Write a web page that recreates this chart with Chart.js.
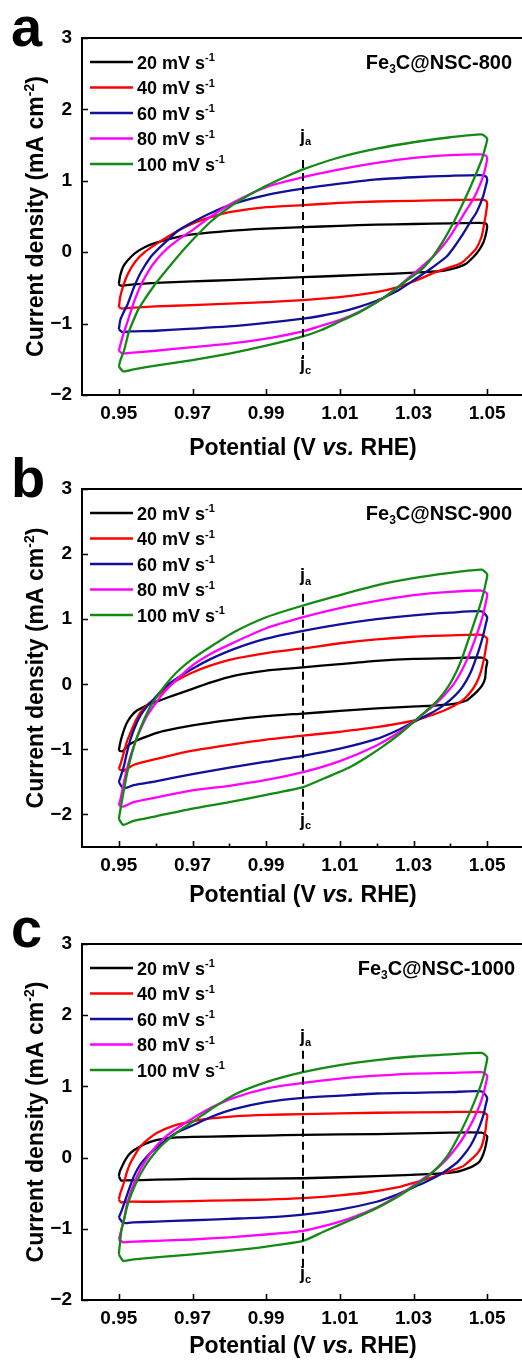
<!DOCTYPE html>
<html><head><meta charset="utf-8">
<script src="https://cdn.jsdelivr.net/npm/chart.js@4/dist/chart.umd.min.js"></script>
<style>
html,body{margin:0;padding:0;background:#fff;overflow:hidden;width:522px;height:1362px;position:relative;}
canvas{position:absolute;left:0;}
</style></head><body>
<canvas id="ca" width="530" height="475" style="top:0px"></canvas>
<canvas id="cb" width="530" height="475" style="top:450px"></canvas>
<canvas id="cc" width="530" height="462" style="top:900px"></canvas>
<script>
// ---------- axis / label data ----------
const E_TICKS = [0.95, 0.97, 0.99, 1.01, 1.03, 1.05];
const E_MINOR = [0.96, 0.98, 1.00, 1.02, 1.04];
const J_TICKS = [-2, -1, 0, 1, 2, 3];
const E_RANGE = [0.94, 1.06];
const J_MIN = [-2, -2.5, -2];
const J_MAX = [3, 3, 3];
const SPEEDS = ['20', '40', '60', '80', '100'];
const SAMPLES = ['800', '900', '1000'];
const LETTERS = ['a', 'b', 'c'];

// ---------- Fe3C@NSC-800 (potential V, current mA cm-2) ----------
const nsc800_20 = [[0.9500,-0.44],[0.9504,-0.32],[0.9512,-0.20],[0.9525,-0.11],[0.9545,-0.01],[0.9570,0.07],[0.9600,0.13],[0.9650,0.20],[0.9700,0.25],[0.9800,0.30],[0.9900,0.33],[1.0000,0.35],[1.0100,0.37],[1.0200,0.385],[1.0300,0.395],[1.0400,0.405],[1.0480,0.41],[1.0497,0.40],[1.0500,0.36],
 [1.0495,0.22],[1.0489,0.13],[1.0478,0.03],[1.0462,-0.07],[1.0440,-0.17],[1.0415,-0.22],[1.0380,-0.26],[1.0330,-0.28],[1.0250,-0.30],[1.0100,-0.33],[1.0000,-0.35],[0.9900,-0.37],[0.9800,-0.39],[0.9700,-0.41],[0.9600,-0.43],[0.9540,-0.45],[0.9510,-0.47],[0.9502,-0.46],[0.9500,-0.44]];
const nsc800_40 = [[0.9500,-0.77],[0.9504,-0.62],[0.9512,-0.47],[0.9525,-0.30],[0.9545,-0.13],[0.9570,0.00],[0.9600,0.11],[0.9650,0.27],[0.9700,0.40],[0.9750,0.49],[0.9800,0.56],[0.9900,0.63],[1.0000,0.66],[1.0100,0.69],[1.0200,0.71],[1.0300,0.72],[1.0400,0.73],[1.0480,0.735],[1.0497,0.72],[1.0500,0.68],
 [1.0497,0.55],[1.0492,0.40],[1.0485,0.22],[1.0470,0.05],[1.0450,-0.06],[1.0430,-0.15],[1.0400,-0.21],[1.0360,-0.28],[1.0300,-0.41],[1.0250,-0.50],[1.0200,-0.56],[1.0100,-0.63],[1.0000,-0.67],[0.9900,-0.70],[0.9800,-0.72],[0.9700,-0.74],[0.9600,-0.76],[0.9530,-0.78],[0.9508,-0.79],[0.9500,-0.77]];
const nsc800_60 = [[0.9500,-1.08],[0.9504,-0.95],[0.9512,-0.85],[0.9523,-0.74],[0.9541,-0.49],[0.9560,-0.28],[0.9586,-0.07],[0.9610,0.06],[0.9631,0.16],[0.9660,0.30],[0.9700,0.42],[0.9750,0.55],[0.9812,0.68],[0.9900,0.80],[1.0000,0.89],[1.0100,0.96],[1.0200,1.02],[1.0300,1.05],[1.0400,1.07],[1.0480,1.08],[1.0497,1.06],[1.0500,1.01],
 [1.0496,0.92],[1.0490,0.80],[1.0480,0.66],[1.0470,0.55],[1.0460,0.47],[1.0449,0.38],[1.0430,0.22],[1.0410,0.07],[1.0390,-0.06],[1.0360,-0.18],[1.0327,-0.30],[1.0290,-0.43],[1.0260,-0.53],[1.0230,-0.61],[1.0200,-0.68],[1.0150,-0.77],[1.0100,-0.84],[1.0050,-0.89],[1.0000,-0.93],[0.9900,-0.99],[0.9800,-1.04],[0.9700,-1.07],[0.9600,-1.10],[0.9530,-1.11],[0.9510,-1.12],[0.9500,-1.08]];
const nsc800_80 = [[0.9500,-1.38],[0.9505,-1.28],[0.9514,-1.12],[0.9525,-0.95],[0.9541,-0.70],[0.9560,-0.46],[0.9586,-0.22],[0.9610,-0.06],[0.9631,0.05],[0.9660,0.17],[0.9700,0.31],[0.9750,0.50],[0.9812,0.70],[0.9900,0.91],[1.0000,1.05],[1.0100,1.16],[1.0200,1.25],[1.0300,1.32],[1.0400,1.36],[1.0480,1.37],[1.0497,1.35],[1.0500,1.31],
 [1.0496,1.20],[1.0490,1.08],[1.0480,0.94],[1.0465,0.77],[1.0450,0.64],[1.0435,0.52],[1.0421,0.40],[1.0400,0.23],[1.0380,0.09],[1.0350,-0.08],[1.0300,-0.30],[1.0260,-0.48],[1.0230,-0.60],[1.0200,-0.70],[1.0150,-0.84],[1.0100,-0.95],[1.0050,-1.03],[1.0000,-1.11],[0.9900,-1.21],[0.9800,-1.28],[0.9700,-1.33],[0.9600,-1.38],[0.9530,-1.41],[0.9510,-1.42],[0.9500,-1.38]];
const nsc800_100 = [[0.9500,-1.60],[0.9505,-1.50],[0.9514,-1.38],[0.9527,-1.12],[0.9540,-0.95],[0.9554,-0.79],[0.9570,-0.66],[0.9586,-0.54],[0.9604,-0.41],[0.9631,-0.24],[0.9660,-0.06],[0.9700,0.17],[0.9750,0.43],[0.9800,0.63],[0.9850,0.79],[0.9900,0.93],[0.9950,1.05],[1.0000,1.16],[1.0100,1.33],[1.0200,1.45],[1.0300,1.54],[1.0400,1.61],[1.0485,1.65],[1.0500,1.59],
 [1.0495,1.47],[1.0488,1.34],[1.0478,1.20],[1.0465,1.04],[1.0450,0.86],[1.0430,0.64],[1.0410,0.43],[1.0390,0.24],[1.0370,0.07],[1.0350,-0.08],[1.0320,-0.25],[1.0280,-0.40],[1.0250,-0.52],[1.0230,-0.60],[1.0200,-0.70],[1.0150,-0.85],[1.0100,-0.97],[1.0050,-1.09],[1.0000,-1.18],[0.9900,-1.31],[0.9800,-1.42],[0.9700,-1.51],[0.9600,-1.59],[0.9540,-1.64],[0.9512,-1.67],[0.9500,-1.60]];

// ---------- Fe3C@NSC-900 ----------
const nsc900_20 = [[0.9500,-1.02],[0.9503,-0.92],[0.9509,-0.79],[0.9516,-0.67],[0.9523,-0.58],[0.9535,-0.48],[0.9550,-0.40],[0.9570,-0.34],[0.9586,-0.30],[0.9620,-0.23],[0.9649,-0.17],[0.9700,-0.07],[0.9750,0.03],[0.9812,0.13],[0.9900,0.21],[1.0000,0.26],[1.0100,0.31],[1.0200,0.36],[1.0300,0.39],[1.0400,0.40],[1.0485,0.41],[1.0500,0.36],
 [1.0497,0.25],[1.0494,0.08],[1.0485,-0.03],[1.0471,-0.12],[1.0455,-0.20],[1.0444,-0.25],[1.0420,-0.29],[1.0399,-0.31],[1.0350,-0.33],[1.0308,-0.34],[1.0200,-0.37],[1.0100,-0.41],[1.0000,-0.45],[0.9900,-0.49],[0.9800,-0.55],[0.9700,-0.63],[0.9620,-0.72],[0.9586,-0.78],[0.9550,-0.86],[0.9525,-0.94],[0.9510,-1.03],[0.9500,-1.02]];
const nsc900_40 = [[0.9500,-1.30],[0.9505,-1.22],[0.9514,-1.04],[0.9522,-0.88],[0.9532,-0.74],[0.9545,-0.57],[0.9559,-0.43],[0.9575,-0.33],[0.9595,-0.23],[0.9620,-0.10],[0.9649,0.03],[0.9700,0.18],[0.9750,0.29],[0.9812,0.39],[0.9900,0.48],[1.0000,0.55],[1.0100,0.63],[1.0200,0.69],[1.0300,0.73],[1.0400,0.75],[1.0485,0.76],[1.0500,0.70],
 [1.0497,0.58],[1.0493,0.44],[1.0487,0.28],[1.0480,0.14],[1.0470,0.01],[1.0455,-0.12],[1.0435,-0.24],[1.0410,-0.33],[1.0380,-0.41],[1.0340,-0.49],[1.0300,-0.56],[1.0200,-0.66],[1.0100,-0.73],[1.0000,-0.79],[0.9900,-0.85],[0.9800,-0.93],[0.9700,-1.02],[0.9600,-1.15],[0.9540,-1.24],[0.9512,-1.33],[0.9500,-1.30]];
const nsc900_60 = [[0.9500,-1.50],[0.9505,-1.42],[0.9514,-1.25],[0.9522,-1.05],[0.9532,-0.84],[0.9545,-0.64],[0.9559,-0.48],[0.9575,-0.35],[0.9595,-0.23],[0.9620,-0.07],[0.9649,0.06],[0.9700,0.24],[0.9750,0.39],[0.9812,0.54],[0.9900,0.70],[1.0000,0.82],[1.0100,0.92],[1.0200,1.00],[1.0300,1.06],[1.0400,1.10],[1.0485,1.12],[1.0500,1.03],
 [1.0496,0.92],[1.0489,0.75],[1.0480,0.57],[1.0470,0.40],[1.0458,0.22],[1.0444,0.06],[1.0425,-0.10],[1.0400,-0.24],[1.0370,-0.37],[1.0335,-0.48],[1.0300,-0.58],[1.0263,-0.69],[1.0200,-0.84],[1.0100,-0.99],[1.0000,-1.10],[0.9900,-1.19],[0.9800,-1.28],[0.9700,-1.38],[0.9600,-1.49],[0.9540,-1.55],[0.9512,-1.60],[0.9500,-1.50]];
const nsc900_80 = [[0.9500,-1.86],[0.9505,-1.75],[0.9514,-1.50],[0.9522,-1.30],[0.9532,-1.10],[0.9545,-0.88],[0.9559,-0.69],[0.9575,-0.50],[0.9595,-0.33],[0.9620,-0.14],[0.9649,0.03],[0.9700,0.29],[0.9750,0.47],[0.9812,0.64],[0.9900,0.86],[1.0000,1.03],[1.0100,1.17],[1.0200,1.28],[1.0300,1.37],[1.0400,1.42],[1.0485,1.44],[1.0500,1.39],
 [1.0496,1.25],[1.0490,1.10],[1.0480,0.90],[1.0465,0.66],[1.0450,0.44],[1.0430,0.20],[1.0410,0.01],[1.0385,-0.16],[1.0360,-0.30],[1.0330,-0.44],[1.0300,-0.58],[1.0263,-0.73],[1.0200,-0.94],[1.0100,-1.18],[1.0000,-1.35],[0.9900,-1.47],[0.9800,-1.56],[0.9700,-1.63],[0.9600,-1.74],[0.9540,-1.81],[0.9512,-1.88],[0.9500,-1.86]];
const nsc900_100 = [[0.9500,-2.07],[0.9505,-1.90],[0.9512,-1.68],[0.9523,-1.35],[0.9536,-1.05],[0.9550,-0.80],[0.9568,-0.55],[0.9586,-0.34],[0.9610,-0.14],[0.9631,0.02],[0.9660,0.20],[0.9700,0.39],[0.9750,0.58],[0.9812,0.80],[0.9900,1.03],[1.0000,1.21],[1.0100,1.37],[1.0200,1.52],[1.0300,1.63],[1.0400,1.71],[1.0485,1.76],[1.0500,1.69],
 [1.0496,1.55],[1.0490,1.40],[1.0480,1.20],[1.0465,0.95],[1.0450,0.70],[1.0435,0.45],[1.0417,0.20],[1.0395,-0.03],[1.0370,-0.22],[1.0345,-0.36],[1.0320,-0.48],[1.0300,-0.58],[1.0263,-0.76],[1.0218,-0.95],[1.0173,-1.12],[1.0128,-1.27],[1.0060,-1.44],[1.0000,-1.58],[0.9900,-1.70],[0.9800,-1.81],[0.9700,-1.91],[0.9600,-2.03],[0.9540,-2.10],[0.9512,-2.16],[0.9500,-2.07]];

// ---------- Fe3C@NSC-1000 ----------
const nsc1000_20 = [[0.9500,-0.26],[0.9503,-0.19],[0.9509,-0.12],[0.9517,-0.04],[0.9527,0.04],[0.9540,0.10],[0.9559,0.16],[0.9580,0.21],[0.9604,0.25],[0.9650,0.28],[0.9700,0.29],[0.9800,0.30],[0.9900,0.31],[1.0000,0.32],[1.0200,0.33],[1.0400,0.35],[1.0485,0.35],[1.0500,0.30],
 [1.0498,0.22],[1.0494,0.12],[1.0488,0.03],[1.0480,-0.05],[1.0468,-0.10],[1.0453,-0.14],[1.0417,-0.20],[1.0380,-0.22],[1.0354,-0.23],[1.0200,-0.26],[1.0000,-0.29],[0.9800,-0.30],[0.9700,-0.30],[0.9600,-0.31],[0.9520,-0.32],[0.9506,-0.32],[0.9500,-0.26]];
const nsc1000_40 = [[0.9500,-0.59],[0.9504,-0.50],[0.9514,-0.35],[0.9522,-0.20],[0.9532,-0.07],[0.9545,0.05],[0.9559,0.16],[0.9580,0.26],[0.9604,0.35],[0.9650,0.45],[0.9700,0.51],[0.9750,0.55],[0.9812,0.58],[0.9900,0.60],[1.0000,0.61],[1.0200,0.63],[1.0400,0.64],[1.0485,0.64],[1.0500,0.60],
 [1.0498,0.50],[1.0496,0.40],[1.0491,0.27],[1.0485,0.16],[1.0475,0.07],[1.0462,0.00],[1.0435,-0.12],[1.0410,-0.17],[1.0381,-0.22],[1.0330,-0.31],[1.0290,-0.37],[1.0263,-0.41],[1.0173,-0.49],[1.0100,-0.53],[1.0000,-0.57],[0.9900,-0.59],[0.9800,-0.60],[0.9700,-0.61],[0.9600,-0.62],[0.9520,-0.62],[0.9506,-0.63],[0.9500,-0.59]];
const nsc1000_60 = [[0.9500,-0.84],[0.9505,-0.78],[0.9512,-0.68],[0.9518,-0.59],[0.9528,-0.44],[0.9541,-0.26],[0.9558,-0.10],[0.9577,0.02],[0.9600,0.13],[0.9631,0.26],[0.9660,0.36],[0.9700,0.45],[0.9750,0.57],[0.9812,0.68],[0.9900,0.78],[1.0000,0.84],[1.0100,0.87],[1.0200,0.90],[1.0300,0.91],[1.0400,0.92],[1.0485,0.93],[1.0500,0.84],
 [1.0496,0.74],[1.0490,0.60],[1.0480,0.45],[1.0468,0.30],[1.0455,0.17],[1.0440,0.06],[1.0420,-0.06],[1.0395,-0.16],[1.0365,-0.26],[1.0330,-0.35],[1.0290,-0.44],[1.0250,-0.53],[1.0200,-0.62],[1.0100,-0.73],[1.0000,-0.80],[0.9900,-0.84],[0.9800,-0.86],[0.9700,-0.88],[0.9600,-0.90],[0.9540,-0.91],[0.9512,-0.92],[0.9500,-0.84]];
const nsc1000_80 = [[0.9500,-1.15],[0.9505,-1.05],[0.9514,-0.87],[0.9522,-0.66],[0.9532,-0.49],[0.9545,-0.31],[0.9559,-0.16],[0.9575,-0.02],[0.9595,0.12],[0.9620,0.26],[0.9649,0.38],[0.9700,0.55],[0.9750,0.70],[0.9812,0.84],[0.9900,0.97],[1.0000,1.05],[1.0100,1.11],[1.0200,1.15],[1.0300,1.18],[1.0400,1.19],[1.0485,1.20],[1.0500,1.15],
 [1.0496,1.03],[1.0490,0.90],[1.0480,0.74],[1.0465,0.56],[1.0450,0.41],[1.0430,0.24],[1.0410,0.10],[1.0385,-0.05],[1.0355,-0.19],[1.0320,-0.32],[1.0290,-0.43],[1.0250,-0.56],[1.0200,-0.70],[1.0100,-0.90],[1.0000,-1.03],[0.9900,-1.08],[0.9800,-1.12],[0.9700,-1.15],[0.9600,-1.17],[0.9540,-1.18],[0.9512,-1.19],[0.9500,-1.15]];
const nsc1000_100 = [[0.9500,-1.36],[0.9503,-1.20],[0.9507,-1.02],[0.9515,-0.85],[0.9523,-0.68],[0.9535,-0.50],[0.9550,-0.32],[0.9568,-0.15],[0.9586,-0.01],[0.9610,0.14],[0.9640,0.28],[0.9670,0.40],[0.9700,0.50],[0.9750,0.68],[0.9812,0.88],[0.9900,1.06],[1.0000,1.20],[1.0100,1.30],[1.0200,1.37],[1.0300,1.42],[1.0400,1.45],[1.0485,1.47],[1.0500,1.41],
 [1.0496,1.28],[1.0490,1.14],[1.0480,0.98],[1.0465,0.78],[1.0450,0.60],[1.0430,0.38],[1.0410,0.18],[1.0390,0.01],[1.0365,-0.14],[1.0330,-0.30],[1.0290,-0.44],[1.0250,-0.57],[1.0200,-0.71],[1.0128,-0.88],[1.0060,-1.03],[1.0000,-1.17],[0.9900,-1.25],[0.9800,-1.31],[0.9700,-1.36],[0.9600,-1.40],[0.9540,-1.43],[0.9512,-1.45],[0.9500,-1.36]];

// dashed guide at E = 1.00 V: [top j, bottom j]; j_a / j_c label baselines
const guide800 = [1.29, -1.49];
const guide900 = [1.39, -1.95];
const guide1000 = [1.50, -1.57];
const jLabel800 = [1.55, -1.65];
const jLabel900 = [1.58, -2.17];
const jLabel1000 = [1.62, -1.70];
const GUIDE_E = 1.00;

// ---------- styling / layout ----------
const COLORS = ['#000000', '#ff0000', '#10109a', '#ff00ff', '#138a13'];
const FONT = '"Liberation Sans", Arial, Helvetica, sans-serif';
const PANELS = [
  {id:'ca', h:475, aTop:38, aBot:395, curves:[nsc800_20,nsc800_40,nsc800_60,nsc800_80,nsc800_100], guide:guide800, jl:jLabel800, sample:SAMPLES[0], letter:LETTERS[0], yMin:J_MIN[0], yMax:J_MAX[0], letterBase:46, xTitleOff:52, minor:false, sampleRight:512},
  {id:'cb', h:475, aTop:39, aBot:397, curves:[nsc900_20,nsc900_40,nsc900_60,nsc900_80,nsc900_100], guide:guide900, jl:jLabel900, sample:SAMPLES[1], letter:LETTERS[1], yMin:J_MIN[1], yMax:J_MAX[1], letterBase:47, xTitleOff:47, minor:true, sampleRight:512},
  {id:'cc', h:462, aTop:44, aBot:400, curves:[nsc1000_20,nsc1000_40,nsc1000_60,nsc1000_80,nsc1000_100], guide:guide1000, jl:jLabel1000, sample:SAMPLES[2], letter:LETTERS[2], yMin:J_MIN[2], yMax:J_MAX[2], letterBase:47, xTitleOff:45, minor:false, sampleRight:515}
];

function fontStr(size, italic){ return (italic ? 'italic ' : '') + 'bold ' + size + 'px ' + FONT; }
function partSize(size, mode){ return (mode === 'sup' || mode === 'sub') ? Math.round(size * 0.62) : size; }
function richWidth(ctx, parts, size){
  let w = 0;
  for (const [t, m] of parts){ ctx.font = fontStr(partSize(size, m), m === 'i'); w += ctx.measureText(t).width; }
  return w;
}
function drawRich(ctx, parts, x, base, size, align){
  const w = richWidth(ctx, parts, size);
  let cx = align === 'center' ? x - w / 2 : align === 'right' ? x - w : x;
  ctx.textAlign = 'left'; ctx.textBaseline = 'alphabetic'; ctx.fillStyle = '#000';
  for (const [t, m] of parts){
    ctx.font = fontStr(partSize(size, m), m === 'i');
    let dy = 0;
    if (m === 'sup') dy = -size * 0.40;
    if (m === 'sub') dy = size * 0.22;
    ctx.fillText(t, cx, base + dy);
    cx += ctx.measureText(t).width;
  }
}

function makeDecor(P){
  return {
    id: 'decor',
    afterDraw(chart){
      const ctx = chart.ctx, ca = chart.chartArea, xs = chart.scales.x, ys = chart.scales.y;
      ctx.save();
      ctx.strokeStyle = '#000'; ctx.lineWidth = 2;
      ctx.strokeRect(ca.left, ca.top, ca.right - ca.left, ca.bottom - ca.top);
      ctx.lineWidth = 1.6;
      ctx.beginPath();
      for (const v of E_TICKS){ const px = Math.round(xs.getPixelForValue(v)) + 0.5; ctx.moveTo(px, ca.bottom); ctx.lineTo(px, ca.bottom - 6); }
      if (P.minor) for (const v of E_MINOR){ const px = Math.round(xs.getPixelForValue(v)) + 0.5; ctx.moveTo(px, ca.bottom); ctx.lineTo(px, ca.bottom - 3.5); }
      for (const v of J_TICKS){ const py = Math.round(ys.getPixelForValue(v)) + 0.5; ctx.moveTo(ca.left, py); ctx.lineTo(ca.left + 6, py); }
      ctx.stroke();
      for (let i = 0; i < SPEEDS.length; i++){
        const cy = ca.top + 24 + i * 25.5;
        ctx.strokeStyle = COLORS[i]; ctx.lineWidth = 2.3;
        ctx.beginPath(); ctx.moveTo(ca.left + 8, cy); ctx.lineTo(ca.left + 51, cy); ctx.stroke();
        drawRich(ctx, [[SPEEDS[i] + ' mV s', ''], ['-1', 'sup']], ca.left + 55, cy + 6.5, 18, 'left');
      }
      drawRich(ctx, [['Fe', ''], ['3', 'sub'], ['C@NSC-' + P.sample, '']], P.sampleRight, ca.top + 31, 20, 'right');
      const gx = xs.getPixelForValue(GUIDE_E);
      drawRich(ctx, [['j', ''], ['a', 'sub']], gx + 2.5, ys.getPixelForValue(P.jl[0]), 18, 'center');
      drawRich(ctx, [['j', ''], ['c', 'sub']], gx + 2.5, ys.getPixelForValue(P.jl[1]), 18, 'center');
      drawRich(ctx, [['Potential (V ', ''], ['vs.', 'i'], [' RHE)', '']], (ca.left + ca.right) / 2, ca.bottom + P.xTitleOff + 8, 23, 'center');
      ctx.save();
      ctx.translate(35, (ca.top + ca.bottom) / 2);
      ctx.rotate(-Math.PI / 2);
      drawRich(ctx, [['Current density (mA cm', ''], ['-2', 'sup'], [')', '']], 0, 8, 23, 'center');
      ctx.restore();
      ctx.font = 'bold 56px ' + FONT; ctx.fillStyle = '#000'; ctx.textAlign = 'left'; ctx.textBaseline = 'alphabetic';
      ctx.fillText(P.letter, 11, P.letterBase);
      ctx.restore();
    }
  };
}

const tickFont = {family: FONT, size: 19, weight: 'bold'};
for (const P of PANELS){
  const datasets = P.curves.map((c, i) => ({
    label: SPEEDS[i] + ' mV s-1',
    data: c.map(p => ({x: p[0], y: p[1]})),
    showLine: true, borderColor: COLORS[i], borderWidth: 2.3, pointRadius: 0, tension: 0.2, fill: false,
    order: SPEEDS.length - i
  }));
  datasets.push({
    label: 'guide',
    data: [{x: GUIDE_E, y: P.guide[0]}, {x: GUIDE_E, y: P.guide[1]}],
    showLine: true, borderColor: '#000', borderWidth: 2, borderDash: [8, 5], pointRadius: 0, order: 0
  });
  new Chart(document.getElementById(P.id), {
    type: 'scatter',
    data: {datasets},
    options: {
      responsive: false, animation: false, devicePixelRatio: 1,
      layout: {padding: {top: P.aTop, left: 0, right: 6, bottom: 0}},
      plugins: {legend: {display: false}, tooltip: {enabled: false}},
      scales: {
        x: {type: 'linear', min: E_RANGE[0], max: E_RANGE[1],
            afterBuildTicks: s => { s.ticks = E_TICKS.map(v => ({value: v})); },
            afterFit: s => { s.height = P.h - P.aBot; },
            grid: {display: false, drawTicks: false}, border: {display: false},
            ticks: {autoSkip: false, maxRotation: 0, padding: 7, color: '#000', font: tickFont, callback: v => Number(v).toFixed(2)}},
        y: {type: 'linear', min: P.yMin, max: P.yMax,
            afterBuildTicks: s => { s.ticks = J_TICKS.map(v => ({value: v})); },
            afterFit: s => { s.width = 82; },
            grid: {display: false, drawTicks: false}, border: {display: false},
            ticks: {autoSkip: false, padding: 10, color: '#000', font: tickFont, callback: v => v < 0 ? '\u2212' + Math.abs(v) : String(v)}}
      }
    },
    plugins: [makeDecor(P)]
  });
}
</script>
</body></html>
